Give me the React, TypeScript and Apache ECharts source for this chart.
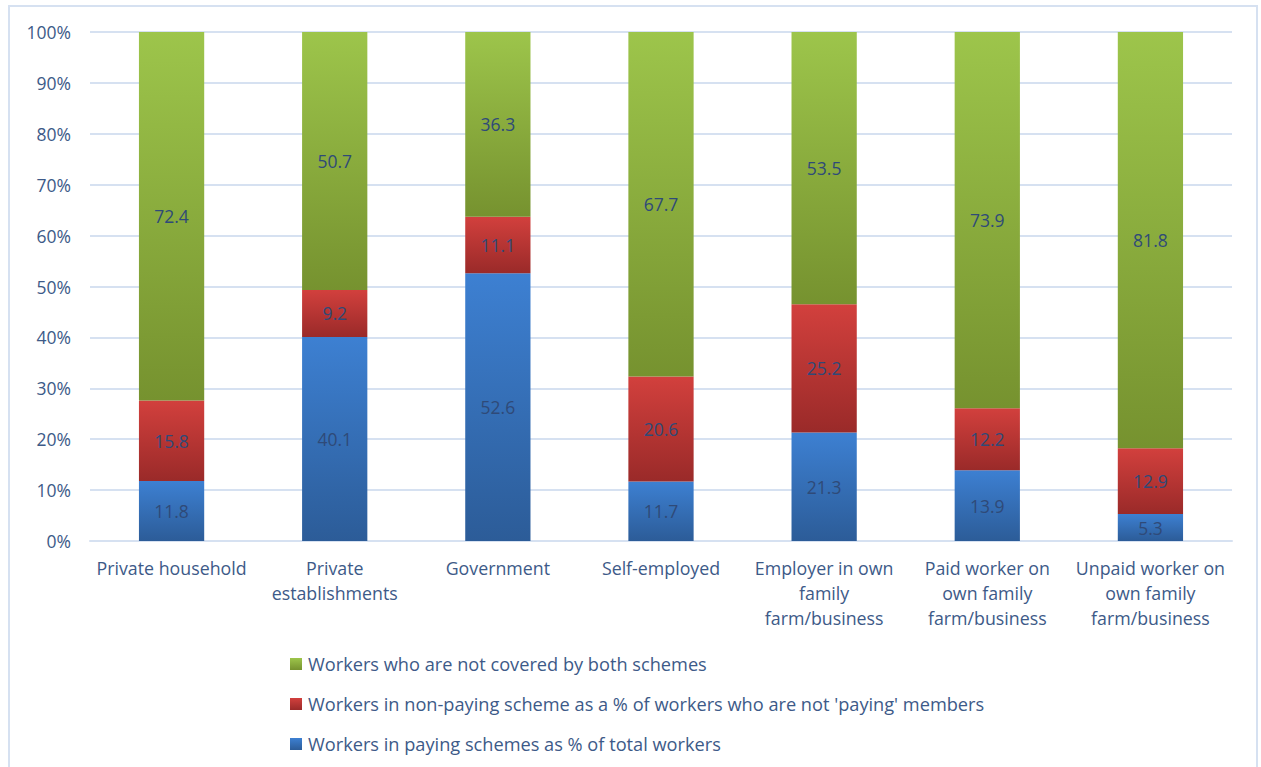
import React, { useEffect, useRef } from "react";
import * as echarts from "echarts";

const categories = [
  "Private household",
  "Private\nestablishments",
  "Government",
  "Self-employed",
  "Employer in own\nfamily\nfarm/business",
  "Paid worker on\nown family\nfarm/business",
  "Unpaid worker on\nown family\nfarm/business",
];

const payingSeries = [11.8, 40.1, 52.6, 11.7, 21.3, 13.9, 5.3];
const nonPayingSeries = [15.8, 9.2, 11.1, 20.6, 25.2, 12.2, 12.9];
const notCoveredSeries = [72.4, 50.7, 36.3, 67.7, 53.5, 73.9, 81.8];

const seriesNames = [
  "Workers who are not covered by both schemes",
  "Workers in non-paying scheme as a % of workers who are not 'paying' members",
  "Workers in paying schemes as % of total workers",
];

const FONT = "'Open Sans', sans-serif";
const TEXT = "#3d5a88";
const LABEL = "#2f4a78";

function grad(top: string, bottom: string) {
  return new echarts.graphic.LinearGradient(0, 0, 0, 1, [
    { offset: 0, color: top },
    { offset: 1, color: bottom },
  ]);
}

export default function App() {
  const ref = useRef<HTMLDivElement>(null);
  useEffect(() => {
    if (!ref.current) return;
    const chart = echarts.init(ref.current, null, { renderer: "svg" });
    const label = {
      show: true,
      position: "inside",
      color: LABEL,
      fontFamily: FONT,
      fontSize: 17.5,
      formatter: (p: any) => p.value.toFixed(1),
    };
    const common = {
      type: "bar",
      stack: "total",
      barWidth: "40%",
      label,
    };
    chart.setOption({
      animation: false,
      graphic: [
        {
          type: "rect",
          shape: { x: 9, y: 6, width: 1248, height: 800 },
          style: { fill: "none", stroke: "#d6e1f1", lineWidth: 2 },
          silent: true,
        },
      ],
      grid: { left: 90, right: 29, top: 32, bottom: 226, containLabel: false },
      legend: {
        orient: "vertical",
        left: 285,
        top: 649,
        itemGap: 20,
        itemWidth: 12,
        itemHeight: 12,
        icon: "rect",
        data: seriesNames,
        textStyle: {
          color: TEXT,
          fontFamily: FONT,
          fontSize: 18.2,
          lineHeight: 20,
          padding: [0, 0, 0, 1],
        },
      },
      xAxis: {
        type: "category",
        data: categories,
        axisLine: { show: true, lineStyle: { color: "#d6e1f1", width: 2 } },
        axisTick: { show: false },
        axisLabel: {
          color: TEXT,
          fontFamily: FONT,
          fontSize: 17.8,
          lineHeight: 25,
          margin: 14,
          interval: 0,
        },
      },
      yAxis: {
        type: "value",
        min: 0,
        max: 100,
        interval: 10,
        axisLine: { show: false },
        axisTick: { show: false },
        splitLine: { lineStyle: { color: "#d6e1f1", width: 2 } },
        axisLabel: {
          color: TEXT,
          fontFamily: FONT,
          fontSize: 17.5,
          margin: 19,
          formatter: "{value}%",
        },
      },
      series: [
        {
          ...common,
          name: seriesNames[2],
          data: payingSeries,
          itemStyle: { color: grad("#3d80d2", "#2c5c98") },
        },
        {
          ...common,
          name: seriesNames[1],
          data: nonPayingSeries,
          itemStyle: { color: grad("#d2403d", "#9a2a29") },
        },
        {
          ...common,
          name: seriesNames[0],
          data: notCoveredSeries,
          itemStyle: { color: grad("#9dc54b", "#76922f") },
        },
      ],
    });
    return () => chart.dispose();
  }, []);
  return (
    <div
      ref={ref}
      style={{ position: "absolute", left: 0, top: 0, width: 1261, height: 767 }}
    />
  );
}
